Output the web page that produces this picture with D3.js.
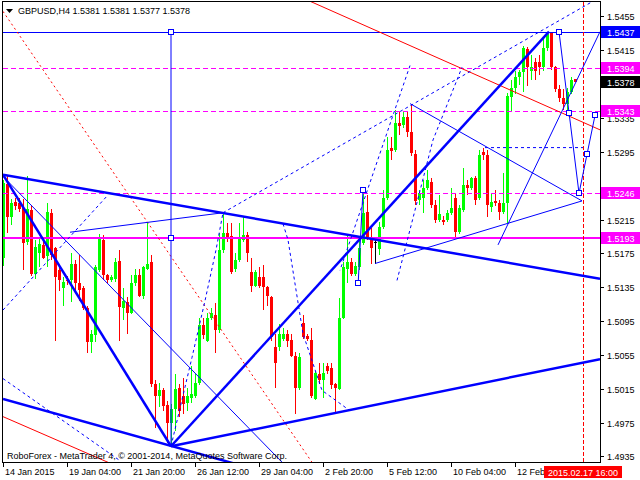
<!DOCTYPE html>
<html><head><meta charset="utf-8">
<script src="https://cdn.jsdelivr.net/npm/d3@7/dist/d3.min.js"></script>
<style>
body{margin:0;background:#fff}
svg{display:block}
text{font-family:"Liberation Sans",Arial,sans-serif;font-size:9px}
</style></head>
<body><svg id="c" width="640" height="480"></svg>
<script>
// ---------- DATA ----------
const symbol = "GBPUSD,H4";
const lastQuote = [1.5381, 1.5381, 1.5377, 1.5378];
const copyright = "RoboForex - MetaTrader 4, \u00a9 2001-2014, MetaQuotes Software Corp.";
const timeLabels = ["14 Jan 2015","19 Jan 04:00","21 Jan 20:00","26 Jan 12:00","29 Jan 04:00","2 Feb 20:00","5 Feb 12:00","10 Feb 04:00","12 Feb"];
const timeTickBars = [0,16,32,48,64,80,96,112,128];
const priceTicks = [1.4935,1.4975,1.5015,1.5055,1.5095,1.5135,1.5175,1.5215,1.5295,1.5335,1.5415,1.5455];
const cursorBar = 145;
const cursorLabel = "2015.02.17 16:00";

const open = [1.5169,1.5257,1.5218,1.5236,1.5235,1.5229,1.5188,1.5226,1.5151,1.5176,
1.5185,1.5172,1.5223,1.5181,1.5155,1.5134,1.5144,1.5143,1.5162,1.5140,
1.5134,1.5111,1.5070,1.5078,1.5155,1.5191,1.5149,1.5144,1.5145,1.5166,
1.5111,1.5118,1.5105,1.5140,1.5149,1.5125,1.5157,1.5165,1.5021,1.5007,
1.5014,1.4996,1.4974,1.4991,1.5016,1.5007,1.4998,1.5004,1.5007,1.5022,
1.5090,1.5072,1.5099,1.5102,1.5084,1.5179,1.5199,1.5195,1.5157,1.5167,
1.5191,1.5197,1.5153,1.5137,1.5147,1.5147,1.5135,1.5123,1.5064,1.5064,
1.5074,1.5080,1.5073,1.5054,1.5016,1.5093,1.5077,1.5073,1.5003,1.5033,
1.5025,1.5042,1.5039,1.5021,1.5015,1.5099,1.5157,1.5165,1.5151,1.5159,
1.5187,1.5224,1.5194,1.5189,1.5180,1.5206,1.5240,1.5299,1.5297,1.5329,
1.5327,1.5336,1.5318,1.5293,1.5238,1.5240,1.5252,1.5259,1.5232,1.5214,
1.5215,1.5214,1.5223,1.5240,1.5200,1.5226,1.5256,1.5252,1.5264,1.5240,
1.5295,1.5291,1.5230,1.5237,1.5235,1.5224,1.5235,1.5360,1.5371,1.5384,
1.5389,1.5417,1.5390,1.5401,1.5401,1.5395,1.5418,1.5436,1.5395,1.5369,
1.5359,1.5351,1.5366,1.5381];
const high = [1.5262,1.5268,1.5239,1.5240,1.5240,1.5239,1.5266,1.5232,1.5191,1.5193,
1.5191,1.5235,1.5227,1.5183,1.5159,1.5147,1.5148,1.5176,1.5167,1.5173,
1.5137,1.5113,1.5084,1.5161,1.5198,1.5197,1.5151,1.5150,1.5169,1.5179,
1.5134,1.5123,1.5149,1.5157,1.5157,1.5160,1.5212,1.5173,1.5025,1.5022,
1.5016,1.5001,1.4997,1.5033,1.5021,1.5028,1.5016,1.5042,1.5033,1.5099,
1.5099,1.5105,1.5110,1.5116,1.5199,1.5223,1.5211,1.5211,1.5176,1.5211,
1.5218,1.5200,1.5170,1.5155,1.5159,1.5161,1.5137,1.5125,1.5080,1.5092,
1.5087,1.5084,1.5080,1.5058,1.5057,1.5102,1.5080,1.5087,1.5036,1.5045,
1.5046,1.5045,1.5045,1.5022,1.5122,1.5165,1.5198,1.5169,1.5165,1.5193,
1.5250,1.5244,1.5205,1.5191,1.5212,1.5250,1.5313,1.5313,1.5345,1.5342,
1.5342,1.5342,1.5352,1.5297,1.5250,1.5262,1.5274,1.5264,1.5238,1.5244,
1.5219,1.5226,1.5252,1.5246,1.5232,1.5276,1.5262,1.5265,1.5266,1.5297,
1.5300,1.5297,1.5246,1.5250,1.5238,1.5270,1.5365,1.5380,1.5390,1.5392,
1.5420,1.5419,1.5410,1.5406,1.5410,1.5430,1.5437,1.5437,1.5397,1.5374,
1.5369,1.5371,1.5383,1.5381];
const low = [1.5160,1.5199,1.5208,1.5226,1.5224,1.5155,1.5185,1.5148,1.5145,1.5159,
1.5168,1.5159,1.5167,1.5072,1.5131,1.5113,1.5138,1.5117,1.5131,1.5119,
1.5108,1.5057,1.5057,1.5070,1.5153,1.5143,1.5140,1.5141,1.5141,1.5072,
1.5096,1.5080,1.5103,1.5137,1.5123,1.5121,1.5155,1.5017,1.4969,1.4993,
1.4989,1.4951,1.4950,1.4965,1.4982,1.4985,1.4989,1.4998,1.5004,1.5020,
1.5074,1.5070,1.5096,1.5057,1.5081,1.5176,1.5188,1.5151,1.5153,1.5165,
1.5188,1.5165,1.5129,1.5135,1.5134,1.5108,1.5113,1.5072,1.5016,1.5060,
1.5071,1.5064,1.5052,1.4985,1.5014,1.5074,1.5072,1.5004,1.5002,1.5021,
1.5004,1.5033,1.5015,1.4985,1.5013,1.5097,1.5140,1.5148,1.5148,1.5155,
1.5185,1.5191,1.5163,1.5163,1.5173,1.5204,1.5238,1.5285,1.5295,1.5315,
1.5323,1.5313,1.5290,1.5232,1.5232,1.5223,1.5250,1.5229,1.5211,1.5212,
1.5208,1.5212,1.5220,1.5194,1.5198,1.5224,1.5244,1.5250,1.5232,1.5238,
1.5285,1.5218,1.5224,1.5231,1.5214,1.5221,1.5211,1.5342,1.5363,1.5374,
1.5366,1.5373,1.5380,1.5380,1.5386,1.5390,1.5414,1.5392,1.5366,1.5354,
1.5345,1.5342,1.5363,1.5377];
const close = [1.5258,1.5218,1.5235,1.5231,1.5227,1.5187,1.5227,1.5151,1.5183,1.5186,
1.5170,1.5224,1.5173,1.5147,1.5143,1.5141,1.5142,1.5163,1.5140,1.5132,
1.5111,1.5070,1.5080,1.5159,1.5192,1.5149,1.5143,1.5147,1.5165,1.5112,
1.5119,1.5105,1.5140,1.5149,1.5125,1.5159,1.5163,1.5021,1.5007,1.5014,
1.4995,1.4975,1.4991,1.5015,1.4989,1.4997,1.5006,1.5009,1.5022,1.5090,
1.5078,1.5099,1.5104,1.5084,1.5179,1.5199,1.5192,1.5153,1.5167,1.5192,
1.5197,1.5175,1.5137,1.5153,1.5136,1.5135,1.5125,1.5076,1.5045,1.5080,
1.5080,1.5072,1.5054,1.5016,1.5052,1.5076,1.5074,1.5007,1.5034,1.5025,
1.5034,1.5036,1.5019,1.5016,1.5099,1.5159,1.5165,1.5151,1.5160,1.5181,
1.5223,1.5194,1.5181,1.5189,1.5206,1.5240,1.5297,1.5296,1.5329,1.5325,
1.5336,1.5318,1.5294,1.5237,1.5246,1.5252,1.5262,1.5232,1.5214,1.5222,
1.5212,1.5223,1.5229,1.5200,1.5229,1.5256,1.5252,1.5264,1.5238,1.5291,
1.5291,1.5232,1.5236,1.5235,1.5224,1.5235,1.5361,1.5371,1.5384,1.5389,
1.5418,1.5395,1.5395,1.5390,1.5395,1.5418,1.5434,1.5395,1.5369,1.5359,
1.5351,1.5366,1.5380,1.5378];

// horizontal price levels
const solidLevels = [1.5437, 1.5193];
const dashedLevels = [1.5394, 1.5343, 1.5246];
const levelLabels = [1.5437, 1.5394, 1.5378, 1.5343, 1.5246, 1.5193];

// trend lines as [bar1, price1, bar2, price2]
const thickLines = [
  [0, 1.5268, 149.25, 1.5145],
  [0, 1.5268, 42, 1.4947],
  [42, 1.4947, 136.5, 1.5437],
  [42, 1.4947, 149.25, 1.5050],
  [0, 1.5003, 57.5, 1.4927]
];
const thinLines = [
  [0, 1.5266, 70, 1.4927],
  [42, 1.5437, 42, 1.4947],
  [16.75, 1.5200, 55, 1.5223],
  [101.75, 1.5352, 144.75, 1.5237],
  [93, 1.5163, 144.75, 1.5237],
  [123.75, 1.5185, 149.25, 1.5437],
  [88.8, 1.5140, 90, 1.5250]
];
const forecastPath = [[139, 1.5437], [144, 1.5246], [148, 1.5338]];
const redLines = [
  [76.75, 1.5473, 149.25, 1.5321],
  [0, 1.4982, 26.75, 1.4927]
];
const redDotted = [[0, 1.5461], [77.4, 1.4927]];
const dashedPaths = [
  [[55, 1.5223], [147.5, 1.5473]],
  [[0, 1.5108], [26.25, 1.5244]],
  [[0, 1.5027], [29.25, 1.4930]],
  [[42, 1.4947], [47.25, 1.5052], [50.5, 1.5119], [53.25, 1.5179], [55, 1.5223]],
  [[70, 1.5210], [71.25, 1.5191], [75, 1.5080], [79.75, 1.5013], [86.75, 1.4989]],
  [[101.75, 1.5397], [84.25, 1.5155]],
  [[98.5, 1.5143], [107.5, 1.5309], [113.5, 1.5380], [114.75, 1.5395]],
  [[120.5, 1.5300], [145, 1.5300]]
];
const anchors = [[42,1.5437],[42,1.5193],[139,1.5437],[141.5,1.5341],[144,1.5246],[146,1.5292],[148,1.5338],[90,1.5250],[88.8,1.5140]];

// ---------- DRAW ----------
const svg = d3.select("#c");
const L = 3, R = 600, T = 2, B = 462;
const x = d3.scaleLinear().domain([0, 143]).range([3, 575]);
const y = d3.scaleLinear().domain([1.49284, 1.54721]).range([B, T]);
const BLUE = "#0000ff", MAG = "#ff00ff", RED = "#ff0000", GREEN = "#00ff00";

svg.append("defs").append("clipPath").attr("id","plot")
  .append("rect").attr("x", L).attr("y", T).attr("width", R - L).attr("height", B - T);
const plot = svg.append("g").attr("clip-path","url(#plot)");

// candles
const bars = d3.range(open.length).map(i => ({i, o: open[i], h: high[i], l: low[i], c: close[i]}));
const col = d => d.c > d.o ? GREEN : d.c < d.o ? RED : "#000";
const cg = plot.append("g").attr("shape-rendering","crispEdges");
cg.selectAll("rect.w").data(bars).join("rect")
  .attr("x", d => Math.round(x(d.i)))
  .attr("y", d => Math.round(y(d.h)))
  .attr("width", 1)
  .attr("height", d => Math.max(1, Math.round(y(d.l)) - Math.round(y(d.h))))
  .attr("fill", col);
cg.selectAll("rect.b").data(bars).join("rect")
  .attr("x", d => Math.round(x(d.i)) - 1)
  .attr("y", d => Math.round(y(Math.max(d.o, d.c))))
  .attr("width", 3)
  .attr("height", d => Math.max(1, Math.round(y(Math.min(d.o, d.c))) - Math.round(y(Math.max(d.o, d.c)))))
  .attr("fill", col);

// horizontal levels
plot.selectAll("line.dl").data(dashedLevels).join("line")
  .attr("x1", L).attr("x2", R).attr("y1", d => Math.round(y(d)) + 0.5).attr("y2", d => Math.round(y(d)) + 0.5)
  .attr("stroke", MAG).attr("stroke-width", 1).attr("stroke-dasharray", "5,3");
plot.append("line").attr("x1", L).attr("x2", R)
  .attr("y1", Math.round(y(solidLevels[0])) + 0.5).attr("y2", Math.round(y(solidLevels[0])) + 0.5)
  .attr("stroke", BLUE).attr("stroke-width", 1);
plot.append("line").attr("x1", L).attr("x2", R)
  .attr("y1", Math.round(y(solidLevels[1]))).attr("y2", Math.round(y(solidLevels[1])))
  .attr("stroke", MAG).attr("stroke-width", 2);

function seg(g, d, color, w, dash) {
  const ln = g.append("line").attr("x1", x(d[0])).attr("y1", y(d[1])).attr("x2", x(d[2])).attr("y2", y(d[3]))
    .attr("stroke", color).attr("stroke-width", w);
  if (dash) ln.attr("stroke-dasharray", dash);
  return ln;
}
const line = d3.line().x(p => x(p[0])).y(p => y(p[1]));

// red objects
redLines.forEach(d => seg(plot, d, RED, 1));
plot.append("path").attr("d", line(redDotted)).attr("fill","none").attr("stroke", RED).attr("stroke-width", 1).attr("stroke-dasharray","2,3");
plot.append("line").attr("x1", Math.round(x(cursorBar)) + 0.5).attr("x2", Math.round(x(cursorBar)) + 0.5).attr("y1", T).attr("y2", B)
  .attr("stroke", RED).attr("stroke-width", 1).attr("stroke-dasharray","4,2");

// blue dashed
dashedPaths.forEach(p => plot.append("path").attr("d", line(p)).attr("fill","none")
  .attr("stroke", BLUE).attr("stroke-width", 1).attr("stroke-dasharray","3,3"));
// blue thin
thinLines.forEach(d => seg(plot, d, BLUE, 1));
plot.append("path").attr("d", line(forecastPath)).attr("fill","none").attr("stroke", BLUE).attr("stroke-width", 1);
// blue thick
thickLines.forEach(d => seg(plot, d, BLUE, 2.5));
// anchors
plot.selectAll("rect.a").data(anchors).join("rect")
  .attr("x", d => Math.round(x(d[0])) - 2.5).attr("y", d => Math.round(y(d[1])) - 2.5)
  .attr("width", 5).attr("height", 5).attr("fill", "#fff").attr("stroke", BLUE).attr("stroke-width", 1);

// frame
svg.append("rect").attr("x", L - 0.5).attr("y", T - 0.5).attr("width", R - L + 1).attr("height", B - T + 1)
  .attr("fill","none").attr("stroke","#000").attr("stroke-width",1).attr("shape-rendering","crispEdges");

// title
svg.append("path").attr("d","M6,9 L13,9 L9.5,13 Z").attr("fill","#000");
svg.append("text").attr("x", 18).attr("y", 14).attr("fill","#000")
  .text(symbol + "  " + lastQuote.map(v => v.toFixed(4)).join(" "));
svg.append("text").attr("x", 7).attr("y", 459).attr("fill","#000").text(copyright);

// right price axis
const ay = svg.append("g");
priceTicks.forEach(v => {
  const yy = Math.round(y(v)) + 0.5;
  ay.append("line").attr("x1", R).attr("x2", R + 4).attr("y1", yy).attr("y2", yy).attr("stroke","#000");
  ay.append("text").attr("x", R + 7).attr("y", yy + 3.5).attr("fill","#000").text(v.toFixed(4));
});
const labelFill = [BLUE, MAG, "#000", MAG, MAG, MAG];
levelLabels.forEach((v, k) => {
  const yy = Math.round(y(v));
  ay.append("rect").attr("x", R + 1).attr("y", yy - 6).attr("width", 39).attr("height", 12).attr("fill", labelFill[k]);
  ay.append("text").attr("x", R + 7).attr("y", yy + 3.5).attr("fill","#fff").text(v.toFixed(4));
});

// bottom time axis
const ax = svg.append("g");
timeTickBars.forEach((b, k) => {
  const xx = Math.round(x(b)) + 0.5;
  ax.append("line").attr("x1", xx).attr("x2", xx).attr("y1", B).attr("y2", B + 5).attr("stroke","#000");
  ax.append("text").attr("x", xx + 1.5).attr("y", 475).attr("fill","#000").text(timeLabels[k]);
});
const cx = Math.round(x(cursorBar));
ax.append("rect").attr("x", cx - 39).attr("y", 466).attr("width", 78).attr("height", 12).attr("fill", RED);
ax.append("text").attr("x", cx).attr("y", 475.5).attr("text-anchor","middle").attr("fill","#fff").text(cursorLabel);
</script></body></html>
